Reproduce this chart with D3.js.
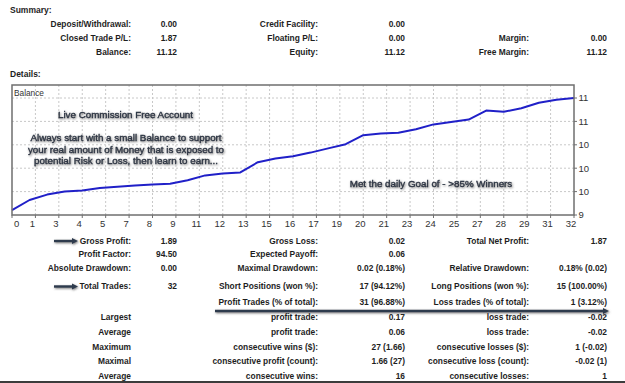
<!DOCTYPE html>
<html>
<head>
<meta charset="utf-8">
<script src="https://cdn.jsdelivr.net/npm/d3@7"></script>
<style>
  html, body { margin: 0; padding: 0; background: #fff; }
  svg { display: block; font-family: "Liberation Sans", Arial, sans-serif; }
</style>
</head>
<body>
<div id="report"></div>
<script>
// balance after each closed trade (trade 0 = starting balance)
const balance = [9.25, 9.42, 9.51, 9.56, 9.58, 9.62, 9.64, 9.66, 9.68, 9.69,
                 9.75, 9.83, 9.86, 9.88, 10.05, 10.11, 10.15, 10.21, 10.28, 10.35,
                 10.50, 10.53, 10.54, 10.60, 10.68, 10.72, 10.76, 10.91, 10.89, 10.95,
                 11.04, 11.09, 11.12];
const xTickLabels = ["0","1","3","4","5","7","8","9","11","12","13","15","16",
                     "17","19","20","21","23","24","25","27","28","29","31","32"];
const yTickValues = [9.17, 9.56, 9.95, 10.34, 10.73, 11.12];
const yTickLabels = ["9","10","10","10","11","11"];

const summaryRows = [
  ["Deposit/Withdrawal:", "0.00", "Credit Facility:", "0.00", "", ""],
  ["Closed Trade P/L:", "1.87", "Floating P/L:", "0.00", "Margin:", "0.00"],
  ["Balance:", "11.12", "Equity:", "11.12", "Free Margin:", "11.12"]
];
const detailRows = [
  ["Gross Profit:", "1.89", "Gross Loss:", "0.02", "Total Net Profit:", "1.87"],
  ["Profit Factor:", "94.50", "Expected Payoff:", "0.06", "", ""],
  ["Absolute Drawdown:", "0.00", "Maximal Drawdown:", "0.02 (0.18%)", "Relative Drawdown:", "0.18% (0.02)"],
  ["Total Trades:", "32", "Short Positions (won %):", "17 (94.12%)", "Long Positions (won %):", "15 (100.00%)"],
  ["", "", "Profit Trades (% of total):", "31 (96.88%)", "Loss trades (% of total):", "1 (3.12%)"],
  ["Largest", "", "profit trade:", "0.17", "loss trade:", "-0.02"],
  ["Average", "", "profit trade:", "0.06", "loss trade:", "-0.02"],
  ["Maximum", "", "consecutive wins ($):", "27 (1.66)", "consecutive losses ($):", "1 (-0.02)"],
  ["Maximal", "", "consecutive profit (count):", "1.66 (27)", "consecutive loss (count):", "-0.02 (1)"],
  ["Average", "", "consecutive wins:", "16", "consecutive losses:", "1"]
];

const width = 625, height = 383;
const colRight = [131, 177, 318, 405, 529, 607];
const summaryY = [24, 38, 52];
const detailY = [241, 254.5, 268, 286.5, 302, 317.5, 332.5, 347, 361.5, 376];
const box = {l: 12, r: 574, t: 85, b: 215};
const ink = "#1e1e1e";

const svg = d3.select("#report")
    .append("svg")
    .attr("width", width)
    .attr("height", height)
    .attr("viewBox", [0, 0, width, height]);

const defs = svg.append("defs");
defs.append("filter")
    .attr("id", "shadow")
    .attr("x", "-10%").attr("y", "-50%").attr("width", "120%").attr("height", "200%")
  .append("feDropShadow")
    .attr("dx", 0.8).attr("dy", 1)
    .attr("stdDeviation", 1)
    .attr("flood-color", "#555")
    .attr("flood-opacity", 0.8);

// section headings
svg.append("text").attr("x", 10).attr("y", 10).attr("dy", "0.35em")
    .attr("font-size", "8.5px").attr("font-weight", "bold").attr("fill", ink)
    .text("Summary:");
svg.append("text").attr("x", 10).attr("y", 74).attr("dy", "0.35em")
    .attr("font-size", "8.5px").attr("font-weight", "bold").attr("fill", ink)
    .text("Details:");

function drawTable(rows, ys) {
  rows.forEach((row, i) => {
    row.forEach((cell, j) => {
      if (!cell) return;
      svg.append("text")
          .attr("x", colRight[j])
          .attr("y", ys[i])
          .attr("dy", "0.35em")
          .attr("text-anchor", "end")
          .attr("font-size", "8.4px")
          .attr("font-weight", "bold")
          .attr("fill", ink)
          .text(cell);
    });
  });
}
drawTable(summaryRows, summaryY);
drawTable(detailRows, detailY);

// balance chart
const x = d3.scaleLinear().domain([0, balance.length - 1]).range([box.l, box.r]);
const y = d3.scaleLinear().domain([yTickValues[0], yTickValues[yTickValues.length - 1]])
    .range([box.b, 98]);
const xStep = (balance.length - 1) / (xTickLabels.length - 1);

const chart = svg.append("g");
chart.append("rect")
    .attr("x", box.l).attr("y", box.t)
    .attr("width", box.r - box.l).attr("height", box.b - box.t)
    .attr("fill", "#fff");

// grid
chart.selectAll(".vgrid")
    .data(xTickLabels.slice(1, -1))
    .enter().append("line")
    .attr("class", "vgrid")
    .attr("x1", (d, i) => x((i + 1) * xStep))
    .attr("x2", (d, i) => x((i + 1) * xStep))
    .attr("y1", box.t).attr("y2", box.b)
    .attr("stroke", "#c8c8c8").attr("stroke-dasharray", "2,2");
chart.selectAll(".hgrid")
    .data(yTickValues.slice(1))
    .enter().append("line")
    .attr("class", "hgrid")
    .attr("x1", box.l).attr("x2", box.r)
    .attr("y1", d => y(d)).attr("y2", d => y(d))
    .attr("stroke", "#c8c8c8").attr("stroke-dasharray", "2,2");

chart.append("text")
    .attr("x", 14).attr("y", 93).attr("dy", "0.35em")
    .attr("font-size", "8.3px").attr("fill", "#333")
    .text("Balance");

// annotations
const notes = [
  {t: "Live Commission Free Account", x: 125.5, y: 115},
  {t: "Always start with a small Balance to support", x: 126, y: 137.5},
  {t: "your real amount of Money that is exposed to", x: 126, y: 149.3},
  {t: "potential Risk or Loss, then learn to earn...", x: 126, y: 161},
  {t: "Met the daily Goal of - >85% Winners", x: 431, y: 183.5}
];
chart.selectAll(".note")
    .data(notes)
    .enter().append("text")
    .attr("class", "note")
    .attr("x", d => d.x).attr("y", d => d.y).attr("dy", "0.35em")
    .attr("text-anchor", "middle")
    .attr("font-size", "9.8px")
    .attr("fill", "#2a3342")
    .attr("stroke", "#2a3342")
    .attr("stroke-width", 0.35)
    .attr("filter", "url(#shadow)")
    .text(d => d.t);

const line = d3.line()
    .x((d, i) => x(i))
    .y(d => y(d));
chart.append("path")
    .datum(balance)
    .attr("d", line)
    .attr("fill", "none")
    .attr("stroke", "#2020c8")
    .attr("stroke-width", 2)
    .attr("stroke-linejoin", "round");

chart.append("rect")
    .attr("x", box.l).attr("y", box.t)
    .attr("width", box.r - box.l).attr("height", box.b - box.t)
    .attr("fill", "none")
    .attr("stroke", "#6f6f6f")
    .attr("stroke-width", 1.5);

// x axis labels + ticks
chart.selectAll(".xtick")
    .data(xTickLabels)
    .enter().append("line")
    .attr("class", "xtick")
    .attr("x1", (d, i) => x(i * xStep)).attr("x2", (d, i) => x(i * xStep))
    .attr("y1", box.b).attr("y2", box.b + 3)
    .attr("stroke", "#6f6f6f");
chart.selectAll(".xlab")
    .data(xTickLabels)
    .enter().append("text")
    .attr("class", "xlab")
    .attr("x", (d, i) => i === 0 ? box.l + 2 : x(i * xStep) - 3)
    .attr("y", 223.5).attr("dy", "0.35em")
    .attr("text-anchor", (d, i) => i === 0 ? "start" : "middle")
    .attr("font-size", "9.5px").attr("fill", "#333")
    .text(d => d);

// y axis labels + ticks
chart.selectAll(".ytick")
    .data(yTickValues)
    .enter().append("line")
    .attr("class", "ytick")
    .attr("x1", box.r).attr("x2", box.r + 3)
    .attr("y1", d => y(d)).attr("y2", d => y(d))
    .attr("stroke", "#6f6f6f");
chart.selectAll(".ylab")
    .data(yTickValues)
    .enter().append("text")
    .attr("class", "ylab")
    .attr("x", 578.5)
    .attr("y", d => y(d)).attr("dy", "0.35em")
    .attr("font-size", "9.5px").attr("fill", "#333")
    .text((d, i) => yTickLabels[i]);

// arrows
const arrowColor = "#2d3a4e";
function arrow(x1, x2, yy, w) {
  const g = svg.append("g").attr("filter", "url(#shadow)");
  g.append("line")
      .attr("x1", x1).attr("x2", x2 - 5)
      .attr("y1", yy).attr("y2", yy)
      .attr("stroke", arrowColor).attr("stroke-width", w);
  g.append("path")
      .attr("d", `M${x2 - 6},${yy - 3}L${x2},${yy}L${x2 - 6},${yy + 3}Z`)
      .attr("fill", arrowColor);
}
arrow(54, 78, detailY[0], 2.4);
arrow(54, 78, detailY[3], 2.4);
arrow(215, 609, 311, 2.4);

// bottom rule
svg.append("line")
    .attr("x1", 0).attr("x2", width)
    .attr("y1", 382).attr("y2", 382)
    .attr("stroke", "#3c3c3c").attr("stroke-width", 2);
</script>
</body>
</html>
